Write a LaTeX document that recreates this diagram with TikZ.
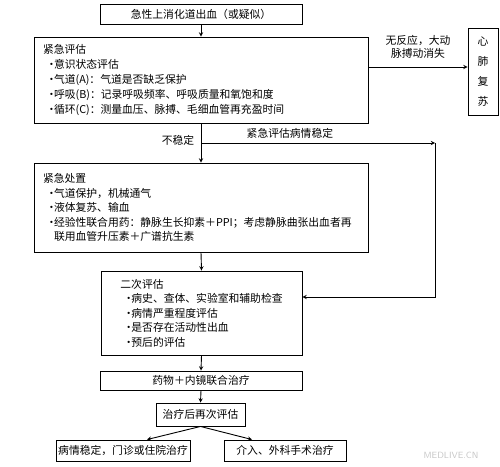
\documentclass[tikz,border=0pt]{standalone}
\usepackage{fontspec}
\setmainfont{Noto Sans CJK SC}
\usetikzlibrary{positioning}

\newcommand{\itemdot}{\hspace*{3pt}\makebox[8pt][l]{·}}
\newcommand{\itemgap}{\hspace*{11pt}}

\begin{document}
\begin{tikzpicture}[
    x=1pt, y=-1pt,
    % Node styles
    flowbox/.style={
        rectangle,
        draw=black,
        line width=0.9pt,
        inner sep=0pt,
        align=center,
        font=\fontsize{10.8}{15}\selectfont
    },
    listbox/.style={
        flowbox,
        inner xsep=9pt,
        text width=316pt,
        align=left
    },
    arrow/.style={
        ->,
        >=stealth,
        line width=0.9pt
    },
    label/.style={
        font=\fontsize{10.8}{12.5}\selectfont,
        align=center
    }
]

\useasboundingbox (0,0) rectangle (500,466);

% ===== Boxes =====

\node[flowbox, minimum width=202pt, minimum height=20pt] (start) at (201,14)
    {急性上消化道出血（或疑似）};

\node[listbox, minimum height=86pt] (assess) at (201,80) {
    紧急评估\\
    \itemdot 意识状态评估\\
    \itemdot 气道(A)：气道是否缺乏保护\\
    \itemdot 呼吸(B)：记录呼吸频率、呼吸质量和氧饱和度\\
    \itemdot 循环(C)：测量血压、脉搏、毛细血管再充盈时间
};

\node[flowbox, minimum width=30pt, minimum height=87pt,
    font=\fontsize{10.8}{20}\selectfont] (cpr) at (483,71.5)
    {心\\肺\\复\\苏};

\node[listbox, minimum height=89pt, font=\fontsize{10.8}{14.5}\selectfont] (treat) at (201,207.5) {
    紧急处置\\
    \itemdot 气道保护，机械通气\\
    \itemdot 液体复苏、输血\\
    \itemdot 经验性联合用药：静脉生长抑素＋PPI；考虑静脉曲张出血者再\\
    \itemgap 联用血管升压素＋广谱抗生素
};

\node[flowbox, align=left, minimum width=201pt, minimum height=84pt,
    font=\fontsize{10.8}{14.5}\selectfont] (second) at (201.5,313) {
    二次评估\\
    \itemdot 病史、查体、实验室和辅助检查\\
    \itemdot 病情严重程度评估\\
    \itemdot 是否存在活动性出血\\
    \itemdot 预后的评估
};

\node[flowbox, minimum width=202pt, minimum height=19pt] (combo) at (201,380.5)
    {药物＋内镜联合治疗};

\node[flowbox, minimum width=89pt, minimum height=23pt] (recheck) at (200.5,414.5)
    {治疗后再次评估};

\node[flowbox, minimum width=134pt, minimum height=21pt] (stable) at (123,450.5)
    {病情稳定，门诊或住院治疗};

\node[flowbox, minimum width=122pt, minimum height=21pt] (surgery) at (285,450.5)
    {介入、外科手术治疗};

\node[text=black!22, font=\sffamily\small] (mark) at (451,455) {MEDLIVE.CN};

% ===== Arrows =====

\draw[arrow] (start.south) -- (assess.north);

\draw[arrow] ([yshift=13pt]assess.east) -- ([yshift=13pt]assess.east -| cpr.west)
    node[midway, above=5pt, label] {无反应，大动\\脉搏动消失};

\draw[arrow] (assess.south) -- (treat.north)
    coordinate[pos=0.5] (split)
    node[pos=0.43, left=3pt, label] {不稳定};

\coordinate (corner) at (435,143);

\draw[arrow] (split) -- (corner)
    node[pos=0.38, above=1pt, label] {紧急评估病情稳定};

\draw[arrow] (corner) |- ([yshift=16pt]second.east);

\draw[arrow] (treat.south) -- (second.north);
\draw[arrow] (second.south) -- (combo.north);
\draw[arrow] (combo.south) -- (recheck.north);
\draw[arrow] (recheck.south) -- ([xshift=24pt]stable.north);
\draw[arrow] (recheck.south) -- ([xshift=-33pt]surgery.north);

\end{tikzpicture}
\end{document}
